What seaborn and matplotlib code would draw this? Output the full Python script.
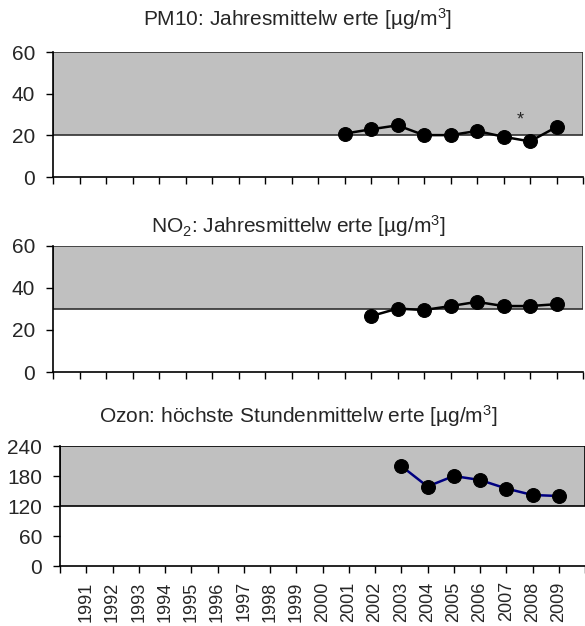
import pandas as pd
import matplotlib
matplotlib.use("Agg")
import matplotlib.pyplot as plt
import seaborn as sns

# values
jahre_pm10 = [2001, 2002, 2003, 2004, 2005, 2006, 2007, 2008, 2009]
pm10 = [20.8, 22.9, 24.8, 20.1, 20.1, 22.1, 19.3, 17.1, 24.0]

jahre_no2 = [2002, 2003, 2004, 2005, 2006, 2007, 2008, 2009]
no2 = [26.6, 30.2, 29.5, 31.4, 33.4, 31.4, 31.4, 32.3]

jahre_ozon = [2003, 2004, 2005, 2006, 2007, 2008, 2009]
ozon = [200, 159, 180, 172, 155, 142, 140]

grenzwerte = [20, 30, 120]
yticks_pm10 = [0, 20, 40, 60]
yticks_no2 = [0, 20, 40, 60]
yticks_ozon = [0, 60, 120, 180, 240]
jahr_labels = [str(j) for j in range(1991, 2010)]

titel = [
    "PM10: Jahresmittelw erte [µg/m$^3$]",
    "NO$_2$: Jahresmittelw erte [µg/m$^3$]",
    "Ozon: höchste Stundenmittelw erte [µg/m$^3$]",
]

sns.set_style("white")
plt.rcParams["font.family"] = ["Liberation Sans", "DejaVu Sans"]
plt.rcParams["mathtext.fontset"] = "custom"
plt.rcParams["mathtext.rm"] = "Liberation Sans"
plt.rcParams["mathtext.it"] = "Liberation Sans:italic"
plt.rcParams["mathtext.default"] = "regular"

W, H = 585, 626
fig = plt.figure(figsize=(W / 100, H / 100), dpi=100)


def pos(left, right, top, bottom):
    return [left / W, 1 - bottom / H, (right - left) / W, (bottom - top) / H]


ax1 = fig.add_axes(pos(53, 583, 52, 177))
ax2 = fig.add_axes(pos(53, 583, 246, 372))
ax3 = fig.add_axes(pos(60, 585, 446, 566))

panels = [
    (ax1, jahre_pm10, pm10, yticks_pm10, grenzwerte[0], "black", "#303030", (1990, 2010)),
    (ax2, jahre_no2, no2, yticks_no2, grenzwerte[1], "black", "#303030", (1990, 2010)),
    (ax3, jahre_ozon, ozon, yticks_ozon, grenzwerte[2], "#000080", "black", (1990, 2009.81)),
]

for ax, jahre, werte, yt, gw, lc, ec, xl in panels:
    df = pd.DataFrame({"Jahr": jahre, "Wert": werte})
    ax.axhspan(gw, yt[-1], facecolor="#C0C0C0", edgecolor=ec, linewidth=1.2, zorder=0)
    sns.lineplot(data=df, x="Jahr", y="Wert", ax=ax, color=lc, linewidth=1.8,
                 marker="o", markersize=10, markerfacecolor="black",
                 markeredgecolor="black", zorder=3, clip_on=False)
    ax.set_xlim(*xl)
    ax.set_ylim(yt[0], yt[-1])
    ax.set_yticks(yt)
    ax.set_xticks(range(1990, 2011))
    ax.set_xlabel("")
    ax.set_ylabel("")
    for s in ["top", "right"]:
        ax.spines[s].set_visible(False)
    for s in ["left", "bottom"]:
        ax.spines[s].set_color("black")
        ax.spines[s].set_linewidth(1.2)
    ax.tick_params(axis="both", direction="out", length=5, width=1, color="black",
                   labelsize=15, left=True, bottom=True)
    ax.tick_params(axis="y", pad=8)
    ax.tick_params(axis="x", pad=6)

ax1.set_xticklabels([])
ax2.set_xticklabels([])
ax3.set_xticklabels([""] + jahr_labels + [""], rotation=90, fontsize=13)

ax1.text(2007.65, 27.5, "*", fontsize=13, ha="center", va="center")

fig.text(298 / W, 1 - 26 / H, titel[0], fontsize=15, ha="center", va="baseline")
fig.text(298 / W, 1 - 233 / H, titel[1], fontsize=15, ha="center", va="baseline")
fig.text(298 / W, 1 - 423 / H, titel[2], fontsize=15, ha="center", va="baseline")

fig.savefig("out.png", dpi=100)
